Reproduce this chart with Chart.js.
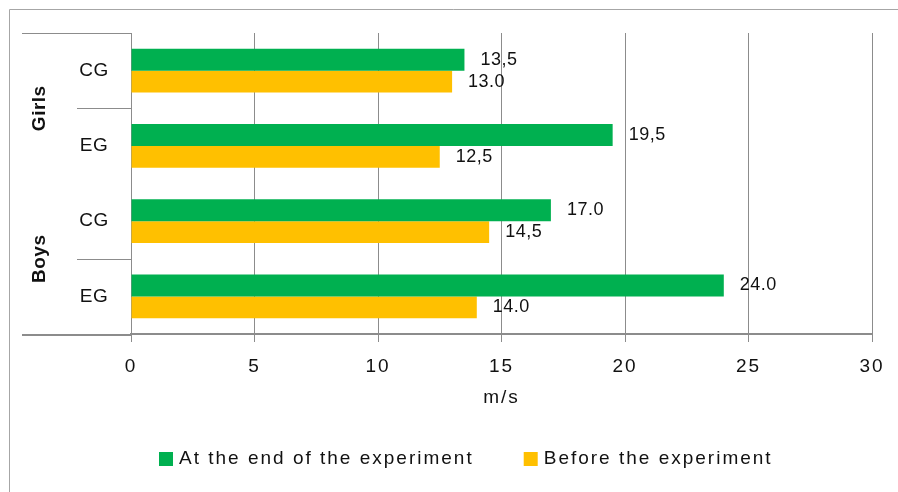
<!DOCTYPE html>
<html><head><meta charset="utf-8">
<script src="https://cdn.jsdelivr.net/npm/chart.js@4"></script>
<style>html,body{margin:0;padding:0;background:#fff}canvas{display:block}</style>
</head><body>
<canvas id="c" width="898" height="492"></canvas>
<script>
const categories = ['CG', 'EG', 'CG', 'EG'];
const categoryGroups = ['Girls', 'Girls', 'Boys', 'Boys'];
const groups = ['Girls', 'Boys'];
const seriesNames = ['At the end of the experiment', 'Before the experiment'];
const endValues = [13.5, 19.5, 17.0, 24.0];
const beforeValues = [13.0, 12.5, 14.5, 14.0];
const endLabels = ['13,5', '19,5', '17.0', '24.0'];
const beforeLabels = ['13.0', '12,5', '14,5', '14.0'];
const xTicks = [0, 5, 10, 15, 20, 25, 30];
const xTitle = 'm/s';

const FONT = '"Liberation Sans", Arial, sans-serif';
const TEXT = '#111';
const LINE = '#8c8c8c';

const framePlugin = {
  id: 'frame',
  beforeDraw(chart) {
    const ctx = chart.ctx;
    ctx.save();
    ctx.fillStyle = '#fff';
    ctx.fillRect(0, 0, chart.width, chart.height);
    ctx.strokeStyle = '#a6a6a6';
    ctx.lineWidth = 1;
    ctx.beginPath();
    ctx.moveTo(9.5, chart.height);
    ctx.lineTo(9.5, 9.5);
    ctx.lineTo(chart.width, 9.5);
    ctx.stroke();
    ctx.restore();
    ctx.letterSpacing = '2px';
  },
  afterDatasetsDraw(chart) {
    const ctx = chart.ctx;
    ctx.save();
    ctx.letterSpacing = '0.5px';
    ctx.font = '18px ' + FONT;
    ctx.fillStyle = TEXT;
    ctx.textAlign = 'left';
    ctx.textBaseline = 'middle';
    chart.data.datasets.forEach((ds, di) => {
      const meta = chart.getDatasetMeta(di);
      meta.data.forEach((bar, i) => {
        ctx.fillText(ds.valueLabels[i], bar.x + 16, bar.y);
      });
    });
    ctx.restore();
  },
  afterDraw(chart) {
    const ctx = chart.ctx;
    const y = chart.scales.y;
    const area = chart.chartArea;
    ctx.save();
    ctx.strokeStyle = LINE;
    ctx.lineWidth = 1;
    ctx.beginPath();
    const top = Math.round(y.getPixelForValue(-0.5)) + 0.5;
    ctx.moveTo(22, top); ctx.lineTo(area.left, top);
    for (let i = 0; i < categories.length - 1; i++) {
      if (categoryGroups[i] === categoryGroups[i + 1]) {
        const yy = Math.round(y.getPixelForValue(i + 0.5)) + 0.5;
        ctx.moveTo(77, yy); ctx.lineTo(area.left, yy);
      }
    }
    ctx.stroke();
    ctx.lineWidth = 2;
    ctx.beginPath();
    ctx.moveTo(22, area.bottom + 1); ctx.lineTo(area.left, area.bottom + 1);
    ctx.stroke();
    ctx.lineWidth = 1;
    ctx.beginPath();
    ctx.moveTo(Math.round(area.left) + 0.5, area.bottom); ctx.lineTo(Math.round(area.left) + 0.5, area.bottom + 8);
    ctx.stroke();

    ctx.fillStyle = TEXT;
    ctx.textAlign = 'center';
    ctx.textBaseline = 'middle';
    ctx.letterSpacing = '0.5px';
    ctx.font = '19px ' + FONT;
    categories.forEach((c, i) => {
      ctx.fillText(c, 94, y.getPixelForValue(i));
    });
    ctx.font = 'bold 19px ' + FONT;
    ctx.letterSpacing = '0.5px';
    groups.forEach(g => {
      const idx = categoryGroups.map((cg, i) => cg === g ? i : -1).filter(i => i >= 0);
      const cy = (y.getPixelForValue(idx[0]) + y.getPixelForValue(idx[idx.length - 1])) / 2;
      ctx.save();
      ctx.translate(40, cy);
      ctx.rotate(-Math.PI / 2);
      ctx.fillText(g, 0, 0);
      ctx.restore();
    });

    ctx.font = '19px ' + FONT;
    ctx.letterSpacing = '2px';
    ctx.textAlign = 'left';
    let lx = 159;
    const ly = 459;
    chart.data.datasets.forEach(ds => {
      ctx.fillStyle = ds.backgroundColor;
      ctx.fillRect(lx, ly - 7, 14, 14);
      lx += 20;
      ctx.fillStyle = TEXT;
      ctx.fillText(ds.label, lx, ly);
      lx += ctx.measureText(ds.label).width + 50;
    });
    ctx.restore();
  }
};

new Chart(document.getElementById('c'), {
  type: 'bar',
  data: {
    labels: categories,
    datasets: [
      { label: seriesNames[0], data: endValues, backgroundColor: '#00B050', valueLabels: endLabels },
      { label: seriesNames[1], data: beforeValues, backgroundColor: '#FFC000', valueLabels: beforeLabels }
    ]
  },
  options: {
    indexAxis: 'y',
    responsive: false,
    animation: false,
    layout: { padding: { top: 33, right: 26, left: 0, bottom: 0 } },
    datasets: { bar: { categoryPercentage: 0.58, barPercentage: 1 } },
    plugins: { legend: { display: false }, tooltip: { enabled: false } },
    scales: {
      x: {
        type: 'linear',
        min: 0, max: 30,
        afterBuildTicks: s => { s.ticks = xTicks.map(v => ({ value: v })); },
        grid: { color: LINE, lineWidth: 1, tickLength: 8, drawTicks: true },
        border: { display: true, color: LINE, width: 2 },
        ticks: { font: { family: FONT, size: 19 }, color: TEXT, padding: 13, maxRotation: 0 },
        title: { display: true, text: xTitle, font: { family: FONT, size: 19 }, color: TEXT, padding: { top: 0, bottom: 83 } },
        afterFit: s => { s.height = 158; }
      },
      y: {
        grid: { display: false, drawTicks: false },
        border: { display: true, color: LINE, width: 1 },
        ticks: { display: false },
        afterFit: s => { s.width = 131; }
      }
    }
  },
  plugins: [framePlugin]
});
</script>
</body></html>
